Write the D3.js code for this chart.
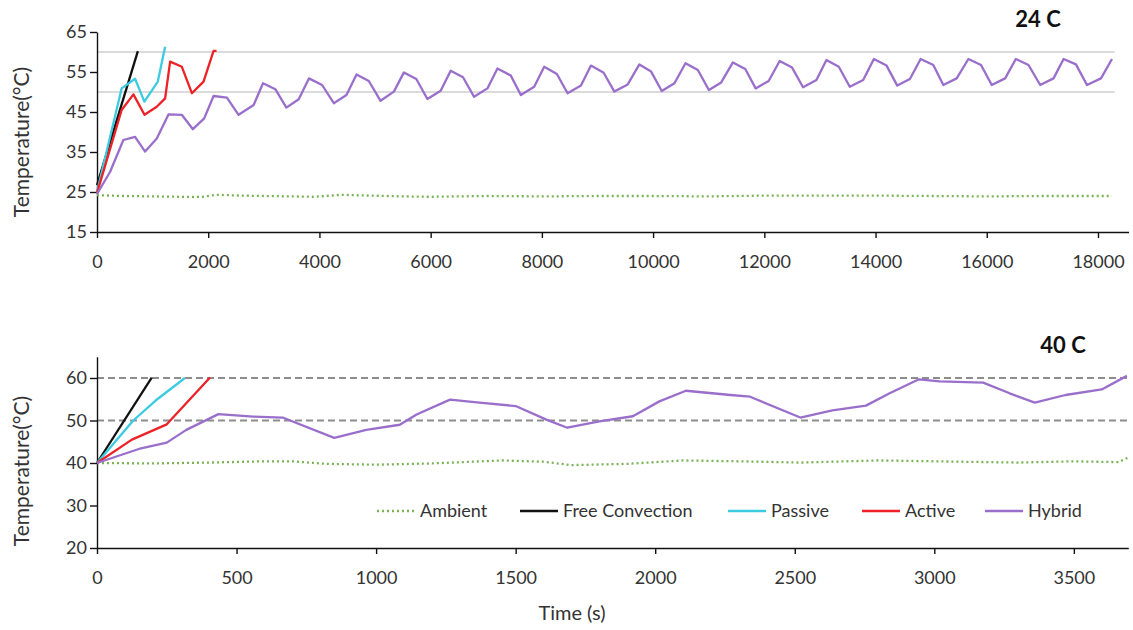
<!DOCTYPE html>
<html>
<head>
<meta charset="utf-8">
<script src="https://cdn.jsdelivr.net/npm/d3@7"></script>
<style>
  body { margin: 0; background: #fff; }
  text { font-family: Lato, "Open Sans", sans-serif; fill: #333; }
</style>
</head>
<body>
<div id="chart"></div>
<script>
// ---- data: [time (s), temperature (C)] ----

// 24 C panel
const topAmbient = [[0,24.2],[500,24.0],[1000,23.9],[1500,23.8],[1900,23.8],[2150,24.3],[2600,24.1],[3000,24.0],[3500,23.9],[3900,23.8],[4400,24.3],[4900,24.1],[5500,23.9],[6000,23.8],[7000,24.0],[8000,23.9],[9000,24.0],[10000,24.0],[11000,23.9],[12000,24.1],[13000,24.1],[14000,24.1],[15000,24.0],[16000,23.9],[17000,24.0],[18250,24.0]]
const topFree = [[0,26.7],[735,60.2]]
const topPassive = [[0,25.0],[443,50.9],[685,53.3],[852,47.6],[1093,52.6],[1225,61.3]]
const topActive = [[0,24.7],[443,45.5],[655,49.4],[854,44.3],[1075,46.3],[1225,48.4],[1315,57.6],[1526,56.3],[1706,49.7],[1916,52.6],[2096,60.3],[2150,60.3]]
const topHybrid = [[0,24.5],[234,30],[474,38],[685,38.8],[865,35.1],[1075,38.4],[1285,44.4],[1525,44.3],[1724,40.7],[1928,43.4],[2096,49],[2336,48.6],[2546,44.3],[2817,46.75],[2985,52.2],[3207,50.7],[3405,46.1],[3627,48.2],[3811,53.4],[4048,51.75],[4258,47.2],[4486,49.25],[4667,54.4],[4888,52.75],[5099,47.8],[5339,50.1],[5519,54.9],[5742,53.25],[5941,48.25],[6180,50.3],[6360,55.3],[6582,53.7],[6780,48.8],[7021,50.9],[7201,55.9],[7441,54.1],[7622,49.25],[7862,51.3],[8042,56.3],[8270,54.5],[8462,49.7],[8703,51.6],[8883,56.6],[9111,54.8],[9303,50.1],[9544,51.9],[9753,56.9],[9964,55.1],[10156,50.25],[10384,52.2],[10583,57.2],[10805,55.5],[11003,50.5],[11225,52.4],[11435,57.4],[11658,55.75],[11844,50.9],[12078,52.75],[12276,57.75],[12499,56.1],[12697,51.2],[12937,53],[13117,58],[13339,56.3],[13537,51.3],[13778,53],[13970,58.25],[14198,56.6],[14391,51.6],[14618,53.25],[14811,58.25],[15039,56.75],[15219,51.75],[15459,53.4],[15670,58.25],[15897,56.75],[16090,51.75],[16330,53.4],[16523,58.25],[16751,56.75],[16961,51.75],[17201,53.4],[17382,58.25],[17604,56.9],[17802,51.75],[18054,53.4],[18252,58.25]]

// 40 C panel
const botAmbient = [[0,40.0],[200,39.9],[400,40.1],[600,40.4],[700,40.4],[820,39.8],[1000,39.6],[1200,39.9],[1450,40.6],[1600,40.3],[1700,39.5],[1900,39.8],[2100,40.6],[2300,40.4],[2520,40.1],[2800,40.6],[3000,40.4],[3300,40.1],[3500,40.4],[3660,40.2],[3692,41.2]]
const botFree = [[0,40],[196,60.1]]
const botPassive = [[0,40],[65,45],[130,50],[210,54.7],[315,60]]
const botActive = [[0,40],[125,45.5],[250,49.1],[405,60.1]]
const botHybrid = [[0,40],[150,43.3],[250,44.8],[320,47.8],[435,51.5],[560,50.9],[665,50.7],[850,45.9],[965,47.8],[1085,49],[1145,51.4],[1265,54.9],[1370,54.2],[1500,53.4],[1610,50.2],[1685,48.3],[1800,49.8],[1920,51],[2015,54.5],[2110,57],[2270,56],[2340,55.6],[2520,50.7],[2635,52.4],[2755,53.5],[2840,56.4],[2945,59.7],[3020,59.2],[3175,58.9],[3270,56.4],[3360,54.2],[3470,56],[3600,57.3],[3690,60.5]]

// limits at 50 and 60 C
const limits = [50, 60]
const topLimitEnd = 18300
const botLimitEnd = 3695

const topYTicks = [15, 25, 35, 45, 55, 65]
const topXTicks = d3.range(0, 18001, 2000)
const botYTicks = [20, 30, 40, 50, 60]
const botXTicks = d3.range(0, 3501, 500)

const seriesNames = ["Ambient", "Free Convection", "Passive", "Active", "Hybrid"]
const colors = {
	"Ambient": "#78b356",
	"Free Convection": "#111111",
	"Passive": "#3ccbe0",
	"Active": "#ec2227",
	"Hybrid": "#9a6fcb",
}

const width = 1133
const height = 630

const svg = d3.select("#chart")
	.append("svg")
	.attr("width", width)
	.attr("height", height)

function drawPanel(opts) {
	const x = d3.scaleLinear().domain(opts.xDomain).range(opts.xRange)
	const y = d3.scaleLinear().domain(opts.yDomain).range(opts.yRange)
	const g = svg.append("g")

	const line = d3.line().x(d => x(d[0])).y(d => y(d[1]))

	// reference lines
	g.selectAll(".limit")
		.data(limits)
		.join("line")
		.attr("class", "limit")
		.attr("x1", x(0))
		.attr("x2", x(opts.limitEnd))
		.attr("y1", d => y(d))
		.attr("y2", d => y(d))
		.attr("stroke", opts.limitColor)
		.attr("stroke-width", opts.limitWidth)
		.attr("stroke-dasharray", opts.limitDash)

	const xAxis = d3.axisBottom(x).tickValues(opts.xTicks).tickFormat(d3.format("d"))
		.tickSize(6).tickSizeOuter(0).tickPadding(15)
	const yAxis = d3.axisLeft(y).tickValues(opts.yTicks).tickSize(7).tickSizeOuter(0).tickPadding(3)

	g.append("g")
		.attr("transform", `translate(0 ${opts.yRange[0]})`)
		.call(xAxis)
		.call(a => a.selectAll("text").attr("font-size", 18).attr("dy", "0.85em"))

	g.append("g")
		.attr("transform", `translate(${opts.xRange[0]} 0)`)
		.call(yAxis)
		.call(a => a.selectAll("text").attr("font-size", 18))

	g.selectAll(".domain, .tick line").attr("stroke", "#111").attr("stroke-width", 1.4)

	// series
	opts.series.forEach((s, i) => {
		const name = seriesNames[i]
		g.append("path")
			.datum(s)
			.attr("d", line)
			.attr("fill", "none")
			.attr("stroke", colors[name])
			.attr("stroke-width", 2.3)
			.attr("stroke-dasharray", name === "Ambient" ? "2 3" : null)
			.attr("stroke-linejoin", "round")
	})

	g.append("text")
		.attr("x", opts.titleX)
		.attr("y", opts.titleY)
		.attr("text-anchor", "middle")
		.attr("font-size", 22)
		.attr("font-weight", "bold")
		.style("fill", "#111")
		.text(opts.title)

	g.append("text")
		.attr("transform", `translate(29 ${opts.labelY}) rotate(-90)`)
		.attr("text-anchor", "middle")
		.attr("font-size", 21)
		.text("Temperature(°C)")

	return { x, y, g }
}

drawPanel({
	xDomain: [0, 18550], xRange: [97, 97 + 18550 * 0.05561],
	yDomain: [15, 65], yRange: [232, 32],
	xTicks: topXTicks, yTicks: topYTicks,
	limitEnd: topLimitEnd, limitColor: "#cfcfcf", limitWidth: 1.5, limitDash: null,
	series: [topAmbient, topFree, topPassive, topActive, topHybrid],
	title: "24 C", titleX: 1038, titleY: 27, labelY: 142,
})

drawPanel({
	xDomain: [0, 3695], xRange: [97, 97 + 3695 * 0.2791],
	yDomain: [20, 65], yRange: [548, 356.75],
	xTicks: botXTicks, yTicks: botYTicks,
	limitEnd: botLimitEnd, limitColor: "#8d8d8d", limitWidth: 1.8, limitDash: "7 4",
	series: [botAmbient, botFree, botPassive, botActive, botHybrid],
	title: "40 C", titleX: 1063, titleY: 353, labelY: 471,
})

// legend
const legendX = [377, 520, 728, 862, 985]
const legendY = 511
const legend = svg.append("g")
	.selectAll("g")
	.data(seriesNames)
	.join("g")
	.attr("transform", (d, i) => `translate(${legendX[i]} ${legendY})`)

legend.append("line")
	.attr("x1", 0).attr("x2", 38)
	.attr("stroke", d => colors[d])
	.attr("stroke-width", 2.3)
	.attr("stroke-dasharray", d => d === "Ambient" ? "2 3" : null)

legend.append("text")
	.attr("x", 43)
	.attr("dy", "0.35em")
	.attr("font-size", 18)
	.text(d => d)

svg.append("text")
	.attr("x", 572)
	.attr("y", 620)
	.attr("text-anchor", "middle")
	.attr("font-size", 20)
	.text("Time (s)")
</script>
</body>
</html>
